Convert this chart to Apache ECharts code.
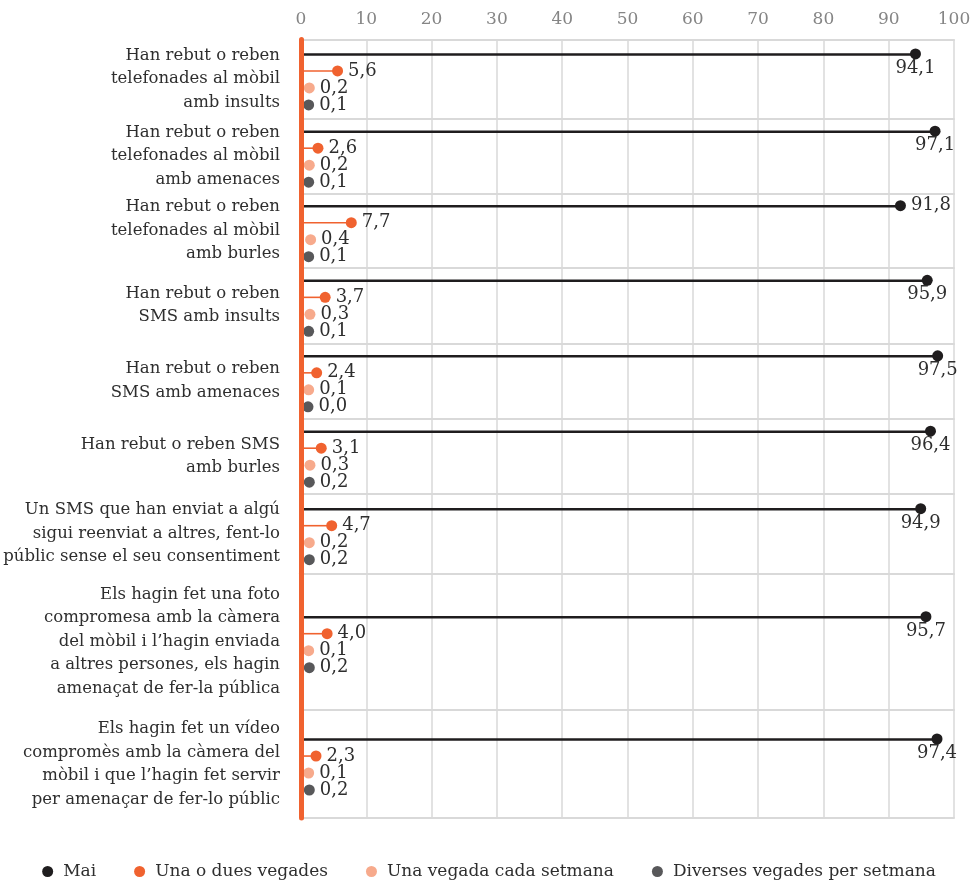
<!DOCTYPE html>
<html>
<head>
<meta charset="utf-8">
<script src="https://cdn.jsdelivr.net/npm/echarts@6/dist/echarts.min.js"></script>
<style>html,body{margin:0;padding:0;background:#fff}#c{width:978px;height:885px}</style>
</head>
<body>
<div id="c"></div>
<script>
const categories = [
  "Han rebut o reben\ntelefonades al mòbil\namb insults",
  "Han rebut o reben\ntelefonades al mòbil\namb amenaces",
  "Han rebut o reben\ntelefonades al mòbil\namb burles",
  "Han rebut o reben\nSMS amb insults",
  "Han rebut o reben\nSMS amb amenaces",
  "Han rebut o reben SMS\namb burles",
  "Un SMS que han enviat a algú\nsigui reenviat a altres, fent-lo\npúblic sense el seu consentiment",
  "Els hagin fet una foto\ncompromesa amb la càmera\ndel mòbil i l’hagin enviada\na altres persones, els hagin\namenaçat de fer-la pública",
  "Els hagin fet un vídeo\ncompromès amb la càmera del\nmòbil i que l’hagin fet servir\nper amenaçar de fer-lo públic"
];
const seriesNames = ["Mai", "Una o dues vegades", "Una vegada cada setmana", "Diverses vegades per setmana"];
const mai        = [94.1, 97.1, 91.8, 95.9, 97.5, 96.4, 94.9, 95.7, 97.4];
const unaDues    = [5.6, 2.6, 7.7, 3.7, 2.4, 3.1, 4.7, 4.0, 2.3];
const cadaSetm   = [0.2, 0.2, 0.4, 0.3, 0.1, 0.3, 0.2, 0.1, 0.1];
const diverses   = [0.1, 0.1, 0.1, 0.1, 0.0, 0.2, 0.2, 0.2, 0.2];
const xTicks = [0, 10, 20, 30, 40, 50, 60, 70, 80, 90, 100];

const allValues = [mai, unaDues, cadaSetm, diverses];
const colors = ['#1f1d1e', '#f0622f', '#f7aa8c', '#58585a'];
const lineWidths = [2.5, 1.6, 1.5, 1.5];
const FONT = '"DejaVu Serif", serif';
const GRID_GRAY = '#d9d9d9';
const TEXT = '#2e2e2e';

// layout (pixel row boundaries)
const rowEdges = [39.5, 118.3, 194, 267.3, 343.3, 418.3, 494, 573.3, 710, 818];
const LEFT = 301, RIGHT = 24, STEP = 17;
const n = categories.length;

const grids = [], xAxes = [], yAxes = [], series = [];
const fmt = v => v.toFixed(1).replace('.', ',');

for (let r = 0; r < n; r++) {
  const top = rowEdges[r], h = rowEdges[r + 1] - rowEdges[r];
  grids.push({ left: LEFT, right: RIGHT, top: top, height: h });
  xAxes.push({
    gridIndex: r, type: 'value', min: 0, max: 100, interval: 10, position: 'top',
    axisLine: { show: true, lineStyle: { color: GRID_GRAY, width: 2 } },
    axisTick: { show: false },
    splitLine: { show: true, lineStyle: { color: GRID_GRAY, width: 1.5 } },
    axisLabel: { show: r === 0, color: '#858585', fontSize: 17, fontFamily: FONT, margin: 11,
      formatter: v => xTicks.indexOf(v) >= 0 ? String(v) : '' },
    z: 1
  });
  yAxes.push({
    gridIndex: r, type: 'category', data: [categories[r]],
    axisLine: { show: true, lineStyle: { color: '#f0622f', width: 5 } },
    axisTick: { show: false },
    axisLabel: { color: TEXT, fontSize: 16.5, lineHeight: 23.5, fontFamily: FONT, margin: 21, align: 'right' },
    z: 10
  });
}
// bottom border line
xAxes.push({
  gridIndex: n - 1, type: 'value', min: 0, max: 100, position: 'bottom',
  axisLine: { show: true, lineStyle: { color: GRID_GRAY, width: 2 } },
  axisTick: { show: false }, splitLine: { show: false }, axisLabel: { show: false }
});
const innerX0 = xAxes.length;
for (let r = 0; r < n; r++) {
  const c = (rowEdges[r] + rowEdges[r + 1]) / 2 + 0.5;
  const gi = grids.length;
  grids.push({ left: LEFT, right: RIGHT, top: c - 2 * STEP, height: 4 * STEP });
  xAxes.push({ gridIndex: gi, type: 'value', min: 0, max: 100, show: false });
  yAxes.push({ gridIndex: gi, type: 'category', data: seriesNames, inverse: true, show: false });
  const xi = innerX0 + r, yi = n + r;
  allValues.forEach((arr, k) => {
    series.push({
      type: 'bar', xAxisIndex: xi, yAxisIndex: yi, silent: true, barWidth: lineWidths[k], barGap: '-100%', z: 2,
      itemStyle: { color: colors[k], opacity: 1 },
      data: seriesNames.map((s, j) => j === k ? arr[r] : '-')
    });
  });
  allValues.forEach((arr, k) => {
    const v = arr[r];
    let pos = 'right', dist = 5;
    if (k === 0 && v > 93) { pos = 'bottom'; dist = 0; }
    series.push({
      name: seriesNames[k], type: 'scatter', xAxisIndex: xi, yAxisIndex: yi, z: 3,
      symbol: 'circle', symbolSize: 11,
      symbolOffset: k >= 2 ? [7, 0] : [0, 0],
      itemStyle: { color: colors[k], opacity: 1 },
      label: { show: true, position: pos, distance: dist, formatter: p => fmt(p.value[0]),
        color: TEXT, fontSize: 18, fontFamily: FONT },
      data: [[v, k]]
    });
  });
}

const chart = echarts.init(document.getElementById('c'), null, { renderer: 'canvas' });
chart.setOption({
  animation: false,
  backgroundColor: '#ffffff',
  legend: {
    data: seriesNames, bottom: 0, left: 'center', icon: 'circle', itemWidth: 11, itemHeight: 11, itemGap: 38,
    itemStyle: { opacity: 1 },
    textStyle: { color: TEXT, fontSize: 17, fontFamily: FONT, padding: [0, 0, 0, 5] }
  },
  grid: grids, xAxis: xAxes, yAxis: yAxes, series: series
});
</script>
</body>
</html>
